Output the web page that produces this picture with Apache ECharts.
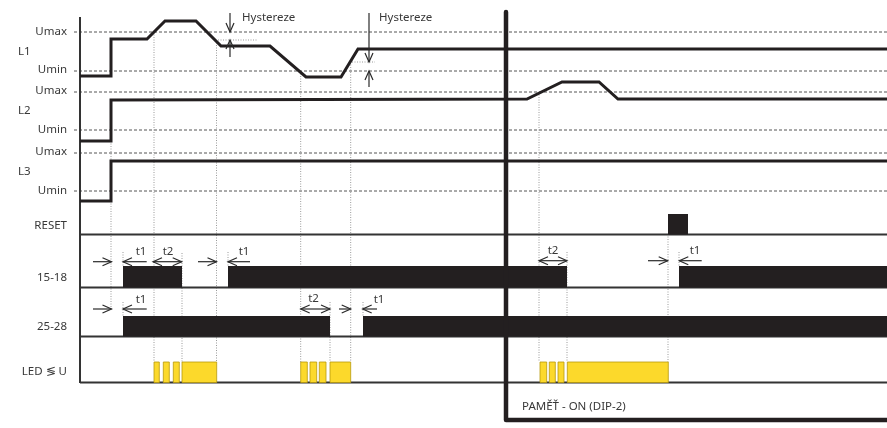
<!DOCTYPE html>
<html><head><meta charset="utf-8">
<script src="https://cdn.jsdelivr.net/npm/echarts@6/dist/echarts.min.js"></script>
<style>html,body{margin:0;padding:0;background:#fff}#c{width:887px;height:428px}</style>
</head><body><div id="c"></div>
<script>
// ---- diagram data: t = time (horizontal), v = vertical position (diagram units, top = 0) ----
const L1_t = [80, 111, 111, 147, 165, 196, 221, 270, 306, 341, 358, 887];
const L1_v = [76, 76, 39, 39, 21, 21, 46, 46, 77, 77, 49, 49];
const L2_t = [80, 111, 111, 527, 562, 599, 618, 887];
const L2_v = [141, 141, 100, 99, 82, 82, 99, 99];
const L3_t = [80, 111, 111, 887];
const L3_v = [201, 201, 161, 161];

// threshold levels (Umax / Umin) per input
const thresholdV = [32, 71, 92, 130, 153, 191];
const thresholdStart = 74, diagramEnd = 887, axisStart = 80;

// track baselines: RESET, 15-18, 25-28, LED
const baselineV = [234.5, 287.5, 336.5, 382.5];

// bars: [start, end]
const reset_on = [[668, 688]];
const relay1518_on = [[123, 182], [228, 567], [679, 887]];
const relay2528_on = [[123, 330], [363, 887]];
const led_on = [[154, 159.3], [163.3, 169.3], [173.3, 179.3], [182, 216.7],
                [300.7, 307.3], [310, 316.7], [319.3, 326], [330, 350.7],
                [540, 546.7], [549.3, 555.3], [558, 564], [567.3, 668.3]];
// bar rows: [top, bottom]
const resetRow = [214, 234.5], row1518 = [266, 287.5], row2528 = [316, 336.5], ledRow = [362, 382.5];

// dotted guide lines: [t, v1, v2]
const guides = [[111, 141, 309], [154, 32, 362], [182, 253, 362], [216.5, 40, 362],
                [123, 252, 266], [123, 302, 316], [228, 252, 266], [300.7, 71, 362],
                [330, 302, 362], [350.7, 62, 362], [363, 302, 316], [539, 92, 362],
                [567, 252, 362], [668, 234, 362], [679, 252, 266]];
// hysteresis dotted ticks: [t1, v1, t2, v2]
const hystTicks = [[218, 40, 258, 40], [352, 62, 375, 62]];

// arrows: [t1, v1, t2, v2, headAtStart, headAtEnd]
const arrows = [
  [93, 261.7, 111.5, 261.7, 0, 1], [146.7, 261.7, 123, 261.7, 0, 1], [153, 261.7, 181.7, 261.7, 1, 1],
  [198, 261.7, 216.5, 261.7, 0, 1], [250, 261.7, 228, 261.7, 0, 1],
  [539, 260.7, 567, 260.7, 1, 1], [648, 260.7, 667.7, 260.7, 0, 1], [701.7, 260.7, 679.3, 260.7, 0, 1],
  [93, 309, 111.5, 309, 0, 1], [146.7, 309, 123, 309, 0, 1], [300.7, 309, 330, 309, 1, 1],
  [339, 309, 350.7, 309, 0, 1], [377, 309, 362.7, 309, 0, 1],
  [230, 13, 230, 32, 0, 1], [230, 57, 230, 40, 0, 1],
  [369, 13, 369, 62, 0, 1], [369, 87, 369, 71, 0, 1]
];

// memory divider
const divider_t = [506, 506, 887];
const divider_v = [12, 420, 420];

// texts
const rowLabels = ['Umax', 'L1', 'Umin', 'Umax', 'L2', 'Umin', 'Umax', 'L3', 'Umin', 'RESET', '15-18', '25-28', 'LED \u2276 U'];
const rowLabelT = [67, 18, 67, 67, 18, 67, 67, 18, 67, 67, 67, 67, 67];
const rowLabelV = [32, 52, 70, 91, 111, 130, 152, 172, 191, 226, 278, 327, 372];
const rowLabelAlign = ['right', 'left', 'right', 'right', 'left', 'right', 'right', 'left', 'right', 'right', 'right', 'right', 'right'];

const timeLabels = ['t1', 't2', 't1', 't2', 't1', 't1', 't2', 't1'];
const timeLabelT = [141, 168, 244, 553, 695, 141, 313.5, 379];
const timeLabelV = [252, 252, 252, 251, 251, 300, 299, 300];

const noteLabels = ['Hystereze', 'Hystereze', 'PAM\u011a\u0164 - ON (DIP-2)'];
const noteLabelT = [242, 379, 522];
const noteLabelV = [18, 18, 407];

// ---- chart ----
const INK = '#231f20', TXT = '#383838', FONT = '"Noto Sans", "Open Sans", sans-serif';
const zip = (a, b) => a.map((x, i) => [x, b[i]]);

function segSeries(segs, style, z) {
  return {
    type: 'custom', z: z, silent: true, clip: false,
    dimensions: ['a', 'b', 'c', 'd'], encode: { x: [0, 2], y: [1, 3] },
    data: segs,
    renderItem: (p, api) => {
      const p1 = api.coord([api.value(0), api.value(1)]);
      const p2 = api.coord([api.value(2), api.value(3)]);
      return { type: 'line', shape: { x1: p1[0], y1: p1[1], x2: p2[0], y2: p2[1] }, style: style };
    }
  };
}
function barSeries(spans, row, fill, stroke, z) {
  return {
    type: 'custom', z: z, silent: true, clip: false,
    dimensions: ['s', 'e', 'top', 'bot'], encode: { x: [0, 1], y: [2, 3] },
    data: spans.map(s => [s[0], s[1], row[0], row[1]]),
    renderItem: (p, api) => {
      const a = api.coord([api.value(0), api.value(2)]);
      const b = api.coord([api.value(1), api.value(3)]);
      return { type: 'rect', shape: { x: a[0], y: a[1], width: b[0] - a[0], height: b[1] - a[1] },
        style: { fill: fill, stroke: stroke || null, lineWidth: stroke ? 0.8 : 0 } };
    }
  };
}
function textSeries(texts, ts, vs, aligns, size) {
  return {
    type: 'custom', z: 20, silent: true, clip: false,
    dimensions: ['t', 'v'], encode: { x: 0, y: 1 },
    data: zip(ts, vs),
    renderItem: (p, api) => {
      const c = api.coord([api.value(0), api.value(1)]);
      const al = aligns ? aligns[p.dataIndex] : 'center';
      return { type: 'text', x: c[0], y: c[1],
        style: { text: texts[p.dataIndex], fill: TXT, fontSize: size, fontFamily: FONT, align: al, verticalAlign: 'middle' } };
    }
  };
}
function lineSeries(ts, vs, width, z) {
  return { type: 'line', z: z, silent: true, symbol: 'none', animation: false, clip: false,
    data: zip(ts, vs), lineStyle: { color: INK, width: width, join: 'miter', cap: 'butt' } };
}

const arrowSeries = {
  type: 'custom', z: 12, silent: true, clip: false,
  dimensions: ['a', 'b', 'c', 'd', 'hs', 'he'], encode: { x: [0, 2], y: [1, 3] },
  data: arrows,
  renderItem: (p, api) => {
    const p1 = api.coord([api.value(0), api.value(1)]);
    const p2 = api.coord([api.value(2), api.value(3)]);
    const dx = p2[0] - p1[0], dy = p2[1] - p1[1], len = Math.hypot(dx, dy) || 1;
    const ux = dx / len, uy = dy / len, nx = -uy, ny = ux, L = 9, W = 4;
    const st = { stroke: '#2a2a2a', lineWidth: 1.2, fill: null };
    const kids = [{ type: 'line', shape: { x1: p1[0], y1: p1[1], x2: p2[0], y2: p2[1] }, style: st }];
    const head = (tip, sx, sy) => ({ type: 'polyline', shape: { points: [
      [tip[0] - sx * L + nx * W, tip[1] - sy * L + ny * W], tip, [tip[0] - sx * L - nx * W, tip[1] - sy * L - ny * W]] }, style: st });
    if (api.value(5)) kids.push(head(p2, ux, uy));
    if (api.value(4)) kids.push(head(p1, -ux, -uy));
    return { type: 'group', children: kids };
  }
};

const series = [
  segSeries(thresholdV.map(v => [thresholdStart, v, diagramEnd, v]), { stroke: '#555', lineWidth: 1, lineDash: [3, 2] }, 1),
  segSeries(guides.map(g => [g[0], g[1], g[0], g[2]]), { stroke: '#9a9a9a', lineWidth: 1, lineDash: [1, 1.5] }, 2),
  segSeries(hystTicks, { stroke: '#9a9a9a', lineWidth: 1, lineDash: [1, 1.5] }, 2),
  segSeries(baselineV.map(v => [axisStart, v, diagramEnd, v]), { stroke: '#333', lineWidth: 2 }, 4),
  segSeries([[axisStart, 17, axisStart, 383]], { stroke: '#333', lineWidth: 2 }, 4),
  barSeries(reset_on, resetRow, INK, null, 6),
  barSeries(relay1518_on, row1518, INK, null, 6),
  barSeries(relay2528_on, row2528, INK, null, 6),
  barSeries(led_on, ledRow, '#fcd92b', '#b8990e', 6),
  lineSeries(L1_t, L1_v, 3, 8),
  lineSeries(L2_t, L2_v, 3, 8),
  lineSeries(L3_t, L3_v, 3, 8),
  arrowSeries,
  { type: 'line', z: 15, silent: true, symbol: 'none', animation: false, clip: false,
    data: zip(divider_t, divider_v), lineStyle: { color: INK, width: 4.5, cap: 'round', join: 'round' } },
  textSeries(rowLabels, rowLabelT, rowLabelV, rowLabelAlign, 11.5),
  textSeries(timeLabels, timeLabelT, timeLabelV, null, 11.5),
  textSeries(noteLabels, noteLabelT, noteLabelV, ['left', 'left', 'left'], 11.5)
];

const chart = echarts.init(document.getElementById('c'), null, { renderer: 'canvas' });
chart.setOption({
  animation: false,
  backgroundColor: '#fff',
  grid: { left: 0, right: 0, top: 0, bottom: 0 },
  xAxis: { type: 'value', min: 0, max: 887, show: false },
  yAxis: { type: 'value', min: 0, max: 428, inverse: true, show: false },
  series: series
});
</script></body></html>
